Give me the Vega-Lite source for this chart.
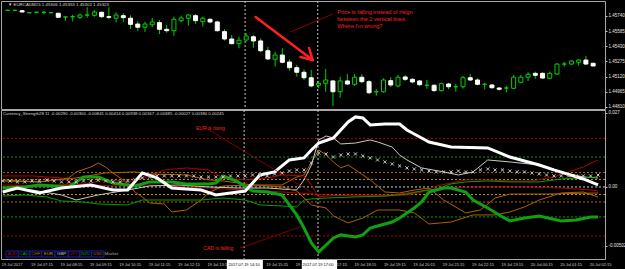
{
"$schema": "https://vega.github.io/schema/vega-lite/v6.json",
"background": "black",
"padding": {"left": 0, "top": 0, "right": 0, "bottom": 0},
"spacing": 1,
"bounds": "flush",
"config": {"view": {"stroke": "#a8a8a8", "strokeWidth": 1}},
"datasets": {
"candles": [
{"i":0,"o":1.45798,"h":1.45804,"l":1.45791,"c":1.45798},
{"i":1,"o":1.45798,"h":1.45804,"l":1.45791,"c":1.45798},
{"i":2,"o":1.45794,"h":1.45798,"l":1.45778,"c":1.45781},
{"i":3,"o":1.45774,"h":1.45778,"l":1.45768,"c":1.45774},
{"i":4,"o":1.45778,"h":1.45784,"l":1.45771,"c":1.45778},
{"i":5,"o":1.45778,"h":1.45791,"l":1.45757,"c":1.45778},
{"i":6,"o":1.45774,"h":1.45778,"l":1.45768,"c":1.45774},
{"i":7,"o":1.45768,"h":1.45771,"l":1.45723,"c":1.45727},
{"i":8,"o":1.4573,"h":1.45733,"l":1.45692,"c":1.4573},
{"i":9,"o":1.45733,"h":1.45753,"l":1.45686,"c":1.45733},
{"i":10,"o":1.45727,"h":1.45764,"l":1.45709,"c":1.4575},
{"i":11,"o":1.4575,"h":1.45829,"l":1.45723,"c":1.4575},
{"i":12,"o":1.45747,"h":1.45801,"l":1.45733,"c":1.45781},
{"i":13,"o":1.45778,"h":1.45786,"l":1.4572,"c":1.45733},
{"i":14,"o":1.45733,"h":1.45829,"l":1.45706,"c":1.45727},
{"i":15,"o":1.45717,"h":1.45778,"l":1.45676,"c":1.4575},
{"i":16,"o":1.45743,"h":1.45768,"l":1.45676,"c":1.45723},
{"i":17,"o":1.45717,"h":1.45747,"l":1.45607,"c":1.45655},
{"i":18,"o":1.45658,"h":1.45686,"l":1.45587,"c":1.45625},
{"i":19,"o":1.45625,"h":1.45682,"l":1.45577,"c":1.45658},
{"i":20,"o":1.45651,"h":1.4572,"l":1.45625,"c":1.45679},
{"i":21,"o":1.45672,"h":1.45699,"l":1.45556,"c":1.45604},
{"i":22,"o":1.45604,"h":1.45648,"l":1.45569,"c":1.4559},
{"i":23,"o":1.4559,"h":1.45733,"l":1.45539,"c":1.45706},
{"i":24,"o":1.45692,"h":1.45743,"l":1.45676,"c":1.4572},
{"i":25,"o":1.45717,"h":1.4576,"l":1.45641,"c":1.4575},
{"i":26,"o":1.45743,"h":1.4576,"l":1.45658,"c":1.45692},
{"i":27,"o":1.45682,"h":1.45733,"l":1.45631,"c":1.45717},
{"i":28,"o":1.45706,"h":1.45717,"l":1.45665,"c":1.45679},
{"i":29,"o":1.45679,"h":1.45692,"l":1.4558,"c":1.4559},
{"i":30,"o":1.4558,"h":1.45604,"l":1.45488,"c":1.45505},
{"i":31,"o":1.45505,"h":1.45546,"l":1.45451,"c":1.45457},
{"i":32,"o":1.45457,"h":1.45528,"l":1.4541,"c":1.45492},
{"i":33,"o":1.45495,"h":1.45563,"l":1.45477,"c":1.45536},
{"i":34,"o":1.45528,"h":1.45546,"l":1.45416,"c":1.45485},
{"i":35,"o":1.45485,"h":1.45512,"l":1.45369,"c":1.45385},
{"i":36,"o":1.45385,"h":1.45426,"l":1.4529,"c":1.45301},
{"i":37,"o":1.45298,"h":1.45375,"l":1.45222,"c":1.45341},
{"i":38,"o":1.45341,"h":1.4541,"l":1.45257,"c":1.45267},
{"i":39,"o":1.4527,"h":1.45298,"l":1.45181,"c":1.45212},
{"i":40,"o":1.45212,"h":1.45239,"l":1.4512,"c":1.45165},
{"i":41,"o":1.45165,"h":1.45195,"l":1.45086,"c":1.45109},
{"i":42,"o":1.45109,"h":1.45188,"l":1.45011,"c":1.45025},
{"i":43,"o":1.45032,"h":1.45076,"l":1.45001,"c":1.45052},
{"i":44,"o":1.45052,"h":1.45198,"l":1.44966,"c":1.45086},
{"i":45,"o":1.45076,"h":1.45086,"l":1.4482,"c":1.44966},
{"i":46,"o":1.44966,"h":1.4512,"l":1.44905,"c":1.45076},
{"i":47,"o":1.45076,"h":1.45147,"l":1.45032,"c":1.45045},
{"i":48,"o":1.45042,"h":1.45147,"l":1.45025,"c":1.45114},
{"i":49,"o":1.45114,"h":1.45147,"l":1.45052,"c":1.45069},
{"i":50,"o":1.45069,"h":1.45086,"l":1.44943,"c":1.44956},
{"i":51,"o":1.44966,"h":1.44991,"l":1.44925,"c":1.44966},
{"i":52,"o":1.44966,"h":1.45103,"l":1.44956,"c":1.45086},
{"i":53,"o":1.45079,"h":1.45114,"l":1.45011,"c":1.45035},
{"i":54,"o":1.45025,"h":1.45137,"l":1.45011,"c":1.45114},
{"i":55,"o":1.45117,"h":1.45137,"l":1.45076,"c":1.45093},
{"i":56,"o":1.45093,"h":1.45103,"l":1.45052,"c":1.45066},
{"i":57,"o":1.45076,"h":1.45086,"l":1.45025,"c":1.45038},
{"i":58,"o":1.45032,"h":1.45086,"l":1.44997,"c":1.45032},
{"i":59,"o":1.45032,"h":1.45042,"l":1.44966,"c":1.44977},
{"i":60,"o":1.44977,"h":1.45058,"l":1.44966,"c":1.45048},
{"i":61,"o":1.45045,"h":1.45058,"l":1.44991,"c":1.45017},
{"i":62,"o":1.45017,"h":1.45045,"l":1.44966,"c":1.45017},
{"i":63,"o":1.45017,"h":1.45127,"l":1.44997,"c":1.45109},
{"i":64,"o":1.45109,"h":1.45147,"l":1.45076,"c":1.45086},
{"i":65,"o":1.45086,"h":1.45103,"l":1.45032,"c":1.45042},
{"i":66,"o":1.45042,"h":1.45058,"l":1.44991,"c":1.45042},
{"i":67,"o":1.45035,"h":1.45045,"l":1.44997,"c":1.45007},
{"i":68,"o":1.45004,"h":1.45011,"l":1.44977,"c":1.44991},
{"i":69,"o":1.45004,"h":1.45025,"l":1.4496,"c":1.45004},
{"i":70,"o":1.45001,"h":1.45137,"l":1.44991,"c":1.45114},
{"i":71,"o":1.45062,"h":1.45137,"l":1.45052,"c":1.45114},
{"i":72,"o":1.45114,"h":1.45165,"l":1.45076,"c":1.45144},
{"i":73,"o":1.45154,"h":1.45171,"l":1.45099,"c":1.45134},
{"i":74,"o":1.45154,"h":1.45165,"l":1.45099,"c":1.45106},
{"i":75,"o":1.45103,"h":1.45171,"l":1.45093,"c":1.45154},
{"i":76,"o":1.45147,"h":1.45257,"l":1.45137,"c":1.45249},
{"i":77,"o":1.45249,"h":1.4527,"l":1.45222,"c":1.45249},
{"i":78,"o":1.45249,"h":1.45287,"l":1.45239,"c":1.4528},
{"i":79,"o":1.45267,"h":1.45298,"l":1.45232,"c":1.4529},
{"i":80,"o":1.4529,"h":1.45331,"l":1.45239,"c":1.45249},
{"i":81,"o":1.45257,"h":1.4526,"l":1.45226,"c":1.45229}
],
"vlines": [{"t":32.85},{"t":42.9}],
"arrow": [
{"s":"a","i":34.3,"p":1.4573},{"s":"a","i":42.2,"p":1.4529},
{"s":"b","i":40.5,"p":1.45321},{"s":"b","i":42.2,"p":1.4529},
{"s":"c","i":41.7,"p":1.45413},{"s":"c","i":42.2,"p":1.4529}
],
"pointerTop": [{"i":45.0,"p":1.4576},{"i":39.1,"p":1.45577}],
"notesTop": [
{"i":45.6,"p":1.45784,"txt":"Price is falling instead of risign"},
{"i":45.6,"p":1.45709,"txt":"between the 2 vertical lines."},
{"i":45.6,"p":1.45635,"txt":"Where I'm wrong?"}
],
"headTop": [{"i":0.04,"p":1.45852,"txt":"\u25bc EURCADM15  1.45306 1.45353 1.45302 1.45323"}],
"levels": [
{"k":"r","v":0.00413},{"k":"g","v":0.00255},{"k":"o","v":0.00123},{"k":"y","v":0.00064},{"k":"z","v":0},
{"k":"y","v":-0.00064},{"k":"o","v":-0.00128},{"k":"g","v":-0.00255},{"k":"r","v":-0.00417}
],
"strength": [
{"c":"AUD","i":0,"v":0.00017},{"c":"AUD","i":5,"v":0.00009},{"c":"AUD","i":10,"v":0.00026},{"c":"AUD","i":15,"v":0.00009},{"c":"AUD","i":20,"v":0.00017},{"c":"AUD","i":25,"v":0},{"c":"AUD","i":28,"v":-0.00009},{"c":"AUD","i":30,"v":-0.00017},{"c":"AUD","i":33,"v":-0.00026},{"c":"AUD","i":36,"v":-0.00034},{"c":"AUD","i":40,"v":-0.00051},{"c":"AUD","i":44,"v":-0.00068},{"c":"AUD","i":48,"v":-0.00077},{"c":"AUD","i":52,"v":-0.00077},{"c":"AUD","i":55,"v":-0.00068},{"c":"AUD","i":57,"v":-0.00043},{"c":"AUD","i":59,"v":0.00009},{"c":"AUD","i":61,"v":0.00034},{"c":"AUD","i":63,"v":0.0006},{"c":"AUD","i":66,"v":0.0006},{"c":"AUD","i":69,"v":0.00051},{"c":"AUD","i":72,"v":0.00051},{"c":"AUD","i":75,"v":0.00085},{"c":"AUD","i":77,"v":0.00128},{"c":"AUD","i":79,"v":0.0017},{"c":"AUD","i":81,"v":0.0023},
{"c":"CHF","i":0,"v":0.0006},{"c":"CHF","i":5,"v":0.00043},{"c":"CHF","i":9,"v":0.00077},{"c":"CHF","i":10,"v":0.00128},{"c":"CHF","i":12,"v":0.0017},{"c":"CHF","i":13,"v":0.00204},{"c":"CHF","i":14,"v":0.0017},{"c":"CHF","i":15,"v":0.00119},{"c":"CHF","i":17,"v":0.00034},{"c":"CHF","i":18,"v":-0.00043},{"c":"CHF","i":19,"v":-0.00085},{"c":"CHF","i":20,"v":-0.00136},{"c":"CHF","i":22,"v":-0.00145},{"c":"CHF","i":23,"v":-0.00213},{"c":"CHF","i":25,"v":-0.00196},{"c":"CHF","i":27,"v":-0.00111},{"c":"CHF","i":28,"v":-0.00051},{"c":"CHF","i":30,"v":0.00009},{"c":"CHF","i":34,"v":0.00017},{"c":"CHF","i":38,"v":0.00017},{"c":"CHF","i":40,"v":0.00085},{"c":"CHF","i":41,"v":0.00102},{"c":"CHF","i":43,"v":0.00315},{"c":"CHF","i":44,"v":0.00272},{"c":"CHF","i":45,"v":0.00213},{"c":"CHF","i":46,"v":0.00162},{"c":"CHF","i":47,"v":0.00187},{"c":"CHF","i":48,"v":0.00145},{"c":"CHF","i":50,"v":0.0006},{"c":"CHF","i":52,"v":-0.00043},{"c":"CHF","i":54,"v":-0.00051},{"c":"CHF","i":56,"v":-0.00026},{"c":"CHF","i":58,"v":-0.00009},{"c":"CHF","i":60,"v":-0.00111},{"c":"CHF","i":63,"v":-0.00221},{"c":"CHF","i":65,"v":-0.00196},{"c":"CHF","i":67,"v":-0.00094},{"c":"CHF","i":69,"v":-0.0006},{"c":"CHF","i":74,"v":-0.0006},{"c":"CHF","i":81,"v":-0.00051},
{"c":"GBP","i":0,"v":-0.00009},{"c":"GBP","i":4,"v":-0.00026},{"c":"GBP","i":8,"v":-0.00068},{"c":"GBP","i":10,"v":-0.00111},{"c":"GBP","i":13,"v":-0.00068},{"c":"GBP","i":17,"v":-0.00026},{"c":"GBP","i":20,"v":0.00009},{"c":"GBP","i":24,"v":0.00017},{"c":"GBP","i":28,"v":0},{"c":"GBP","i":32,"v":-0.00009},{"c":"GBP","i":36,"v":-0.00009},{"c":"GBP","i":40,"v":-0.00026},{"c":"GBP","i":41,"v":0.0006},{"c":"GBP","i":42,"v":0.00187},{"c":"GBP","i":43,"v":0.004},{"c":"GBP","i":44,"v":0.00434},{"c":"GBP","i":45,"v":0.00417},{"c":"GBP","i":46,"v":0.00366},{"c":"GBP","i":48,"v":0.00374},{"c":"GBP","i":50,"v":0.004},{"c":"GBP","i":51,"v":0.00383},{"c":"GBP","i":53,"v":0.0034},{"c":"GBP","i":54,"v":0.00272},{"c":"GBP","i":55,"v":0.0023},{"c":"GBP","i":57,"v":0.00162},{"c":"GBP","i":60,"v":0.00128},{"c":"GBP","i":62,"v":0.00102},{"c":"GBP","i":64,"v":0.00128},{"c":"GBP","i":66,"v":0.0023},{"c":"GBP","i":69,"v":0.00213},{"c":"GBP","i":73,"v":0.00187},{"c":"GBP","i":76,"v":0.00128},{"c":"GBP","i":79,"v":0.00085},{"c":"GBP","i":81,"v":0.00077},
{"c":"JPY","i":0,"v":0.00094},{"c":"JPY","i":4,"v":0.00094},{"c":"JPY","i":8,"v":0.00077},{"c":"JPY","i":10,"v":0.00017},{"c":"JPY","i":12,"v":0.00034},{"c":"JPY","i":14,"v":0.0006},{"c":"JPY","i":17,"v":0.00043},{"c":"JPY","i":20,"v":0.00094},{"c":"JPY","i":22,"v":0.00145},{"c":"JPY","i":25,"v":0.00162},{"c":"JPY","i":28,"v":0.00145},{"c":"JPY","i":30,"v":0.00077},{"c":"JPY","i":33,"v":0.0006},{"c":"JPY","i":36,"v":0.00077},{"c":"JPY","i":38,"v":0.00102},{"c":"JPY","i":41,"v":0.00094},{"c":"JPY","i":42,"v":0.00017},{"c":"JPY","i":43,"v":-0.00085},{"c":"JPY","i":44,"v":-0.00077},{"c":"JPY","i":47,"v":-0.00068},{"c":"JPY","i":50,"v":-0.00068},{"c":"JPY","i":53,"v":-0.00068},{"c":"JPY","i":56,"v":-0.00043},{"c":"JPY","i":60,"v":-0.00009},{"c":"JPY","i":64,"v":0},{"c":"JPY","i":68,"v":0},{"c":"JPY","i":72,"v":0},{"c":"JPY","i":76,"v":-0.00009},{"c":"JPY","i":80,"v":-0.00026},{"c":"JPY","i":81,"v":-0.00034},
{"c":"NZD","i":0,"v":-0.00077},{"c":"NZD","i":3,"v":-0.00068},{"c":"NZD","i":6,"v":-0.00085},{"c":"NZD","i":8,"v":-0.00119},{"c":"NZD","i":11,"v":-0.00128},{"c":"NZD","i":13,"v":-0.00145},{"c":"NZD","i":17,"v":-0.00153},{"c":"NZD","i":19,"v":-0.00111},{"c":"NZD","i":23,"v":-0.00111},{"c":"NZD","i":27,"v":-0.00111},{"c":"NZD","i":30,"v":-0.00094},{"c":"NZD","i":33,"v":-0.00111},{"c":"NZD","i":35,"v":-0.00153},{"c":"NZD","i":38,"v":-0.00162},{"c":"NZD","i":40,"v":-0.0017},{"c":"NZD","i":41,"v":-0.00111},{"c":"NZD","i":42,"v":-0.00102},{"c":"NZD","i":44,"v":-0.00094},{"c":"NZD","i":48,"v":-0.00085},{"c":"NZD","i":52,"v":-0.00077},{"c":"NZD","i":55,"v":-0.0006},{"c":"NZD","i":57,"v":-0.00034},{"c":"NZD","i":59,"v":-0.00017},{"c":"NZD","i":61,"v":0.00026},{"c":"NZD","i":63,"v":0.00043},{"c":"NZD","i":66,"v":0.00051},{"c":"NZD","i":69,"v":0.00043},{"c":"NZD","i":73,"v":0.00043},{"c":"NZD","i":76,"v":0.00068},{"c":"NZD","i":79,"v":0.00077},{"c":"NZD","i":81,"v":0.00085},
{"c":"USD","i":0,"v":0.00051},{"c":"USD","i":5,"v":0.00043},{"c":"USD","i":10,"v":0.00077},{"c":"USD","i":14,"v":0.00119},{"c":"USD","i":18,"v":0.00128},{"c":"USD","i":20,"v":0.00111},{"c":"USD","i":25,"v":0.00102},{"c":"USD","i":28,"v":0.0006},{"c":"USD","i":30,"v":0.00051},{"c":"USD","i":34,"v":0.00017},{"c":"USD","i":38,"v":0},{"c":"USD","i":40,"v":-0.00034},{"c":"USD","i":42,"v":-0.00153},{"c":"USD","i":44,"v":-0.00179},{"c":"USD","i":45,"v":-0.00247},{"c":"USD","i":47,"v":-0.00306},{"c":"USD","i":49,"v":-0.00264},{"c":"USD","i":51,"v":-0.00196},{"c":"USD","i":54,"v":-0.00196},{"c":"USD","i":56,"v":-0.00221},{"c":"USD","i":58,"v":-0.00315},{"c":"USD","i":61,"v":-0.00298},{"c":"USD","i":64,"v":-0.00238},{"c":"USD","i":67,"v":-0.00238},{"c":"USD","i":69,"v":-0.00213},{"c":"USD","i":71,"v":-0.0017},{"c":"USD","i":73,"v":-0.00111},{"c":"USD","i":76,"v":-0.00051},{"c":"USD","i":79,"v":-0.00043},{"c":"USD","i":81,"v":-0.00085},
{"c":"CAD","i":0,"v":-0.00009},{"c":"CAD","i":3,"v":0},{"c":"CAD","i":5,"v":0.00017},{"c":"CAD","i":9,"v":0},{"c":"CAD","i":11,"v":0.00085},{"c":"CAD","i":13,"v":0.00085},{"c":"CAD","i":15,"v":0.00034},{"c":"CAD","i":18,"v":0.00009},{"c":"CAD","i":20,"v":0.00043},{"c":"CAD","i":23,"v":0.00043},{"c":"CAD","i":25,"v":0.00026},{"c":"CAD","i":28,"v":0.00026},{"c":"CAD","i":29,"v":0.00034},{"c":"CAD","i":30,"v":0.00094},{"c":"CAD","i":32,"v":0.00043},{"c":"CAD","i":34,"v":-0.00034},{"c":"CAD","i":36,"v":-0.00043},{"c":"CAD","i":38,"v":-0.00068},{"c":"CAD","i":40,"v":-0.00238},{"c":"CAD","i":41,"v":-0.00349},{"c":"CAD","i":42,"v":-0.00477},{"c":"CAD","i":43,"v":-0.00553},{"c":"CAD","i":44,"v":-0.00494},{"c":"CAD","i":45,"v":-0.00434},{"c":"CAD","i":46,"v":-0.00408},{"c":"CAD","i":48,"v":-0.00426},{"c":"CAD","i":49,"v":-0.00408},{"c":"CAD","i":50,"v":-0.00349},{"c":"CAD","i":51,"v":-0.00332},{"c":"CAD","i":53,"v":-0.00298},{"c":"CAD","i":54,"v":-0.00264},{"c":"CAD","i":56,"v":-0.00179},{"c":"CAD","i":57,"v":-0.00128},{"c":"CAD","i":58,"v":-0.00043},{"c":"CAD","i":60,"v":-0.00009},{"c":"CAD","i":61,"v":-0.00009},{"c":"CAD","i":63,"v":-0.00043},{"c":"CAD","i":64,"v":-0.00111},{"c":"CAD","i":66,"v":-0.00179},{"c":"CAD","i":68,"v":-0.00255},{"c":"CAD","i":69,"v":-0.00289},{"c":"CAD","i":71,"v":-0.00264},{"c":"CAD","i":73,"v":-0.00247},{"c":"CAD","i":76,"v":-0.00289},{"c":"CAD","i":78,"v":-0.00281},{"c":"CAD","i":80,"v":-0.00255},{"c":"CAD","i":81,"v":-0.00255},
{"c":"EUR","i":0,"v":-0.00043},{"c":"EUR","i":2,"v":-0.00009},{"c":"EUR","i":5,"v":-0.00051},{"c":"EUR","i":8,"v":-0.00009},{"c":"EUR","i":12,"v":0.00017},{"c":"EUR","i":15,"v":-0.00026},{"c":"EUR","i":17,"v":-0.00026},{"c":"EUR","i":19,"v":0.00119},{"c":"EUR","i":21,"v":0.00077},{"c":"EUR","i":23,"v":-0.00009},{"c":"EUR","i":27,"v":-0.00026},{"c":"EUR","i":29,"v":-0.00068},{"c":"EUR","i":33,"v":-0.00034},{"c":"EUR","i":35,"v":0.00102},{"c":"EUR","i":37,"v":0.00128},{"c":"EUR","i":39,"v":0.0023},{"c":"EUR","i":41,"v":0.00247},{"c":"EUR","i":42,"v":0.00315},{"c":"EUR","i":43,"v":0.00374},{"c":"EUR","i":45,"v":0.00417},{"c":"EUR","i":47,"v":0.00553},{"c":"EUR","i":48,"v":0.00596},{"c":"EUR","i":49,"v":0.00587},{"c":"EUR","i":50,"v":0.00528},{"c":"EUR","i":52,"v":0.00536},{"c":"EUR","i":54,"v":0.00536},{"c":"EUR","i":55,"v":0.00485},{"c":"EUR","i":57,"v":0.00417},{"c":"EUR","i":58,"v":0.00383},{"c":"EUR","i":61,"v":0.0034},{"c":"EUR","i":66,"v":0.00332},{"c":"EUR","i":69,"v":0.00255},{"c":"EUR","i":73,"v":0.00187},{"c":"EUR","i":75,"v":0.00145},{"c":"EUR","i":79,"v":0.00068},{"c":"EUR","i":81,"v":0.00017}
],
"market": [
{"i":0,"v":0.00051},{"i":1,"v":0.00051},{"i":2,"v":0.00043},{"i":3,"v":0.00043},{"i":4,"v":0.00051},{"i":5,"v":0.00051},{"i":6,"v":0.0006},{"i":7,"v":0.00051},{"i":8,"v":0.00043},{"i":9,"v":0.00043},{"i":10,"v":0.00043},{"i":11,"v":0.00051},{"i":12,"v":0.00051},{"i":13,"v":0.0006},{"i":14,"v":0.00051},{"i":15,"v":0.00043},{"i":16,"v":0.00043},{"i":17,"v":0.00051},{"i":18,"v":0.0006},{"i":19,"v":0.00077},{"i":20,"v":0.00085},{"i":21,"v":0.00094},{"i":22,"v":0.00094},{"i":23,"v":0.00094},{"i":24,"v":0.00094},{"i":25,"v":0.00094},{"i":26,"v":0.00094},{"i":27,"v":0.00085},{"i":28,"v":0.00085},{"i":29,"v":0.00085},{"i":30,"v":0.00085},{"i":31,"v":0.00094},{"i":32,"v":0.00094},{"i":33,"v":0.00094},{"i":34,"v":0.00102},{"i":35,"v":0.00102},{"i":36,"v":0.00094},{"i":37,"v":0.00111},{"i":38,"v":0.00119},{"i":39,"v":0.00136},{"i":40,"v":0.00145},{"i":41,"v":0.00145},{"i":42,"v":0.00204},{"i":43,"v":0.00289},{"i":44,"v":0.00281},{"i":45,"v":0.00255},{"i":46,"v":0.00272},{"i":47,"v":0.00281},{"i":48,"v":0.00281},{"i":49,"v":0.00264},{"i":50,"v":0.00247},{"i":51,"v":0.0023},{"i":52,"v":0.00213},{"i":53,"v":0.00196},{"i":54,"v":0.00179},{"i":55,"v":0.00162},{"i":56,"v":0.00153},{"i":57,"v":0.00145},{"i":58,"v":0.00136},{"i":59,"v":0.00128},{"i":60,"v":0.00128},{"i":61,"v":0.00128},{"i":62,"v":0.00136},{"i":63,"v":0.00128},{"i":64,"v":0.00128},{"i":65,"v":0.00145},{"i":66,"v":0.00153},{"i":67,"v":0.00145},{"i":68,"v":0.00145},{"i":69,"v":0.00136},{"i":70,"v":0.00128},{"i":71,"v":0.00128},{"i":72,"v":0.00119},{"i":73,"v":0.00111},{"i":74,"v":0.00102},{"i":75,"v":0.00094},{"i":76,"v":0.00094},{"i":77,"v":0.00094},{"i":78,"v":0.00094},{"i":79,"v":0.00094},{"i":80,"v":0.00094},{"i":81,"v":0.00102}
],
"pointersBottom": [
{"s":"eur","i":27.65,"v":0.00502},{"s":"eur","i":42.2,"v":-0.00051},
{"s":"cad","i":32.3,"v":-0.00519},{"s":"cad","i":40.5,"v":-0.0034}
],
"notesBottom": [
{"i":26.3,"v":0.00502,"txt":"EUR is rising"},
{"i":27.3,"v":-0.00519,"txt":"CAD is falling"}
],
"headBottom": [{"i":0.04,"v":0.00621,"txt":"Currency_Strength28 11 -0.00290 -0.00300 -0.00841 0.00414 0.00938 0.00167 -0.00385 -0.00027 0.00380 0.00245"}],
"legend": [
{"c":"AUD","s":0.45,"e":2.12,"m":1.28},
{"c":"CAD","s":2.12,"e":3.71,"m":2.92},
{"c":"CHF","s":3.71,"e":5.31,"m":4.51},
{"c":"EUR","s":5.31,"e":7.12,"m":6.22},
{"c":"GBP","s":7.12,"e":8.93,"m":8.02},
{"c":"JPY","s":8.93,"e":10.52,"m":9.72},
{"c":"NZD","s":10.52,"e":12.11,"m":11.32},
{"c":"USD","s":12.11,"e":13.78,"m":12.95}
],
"market_label": [{"i":13.9,"txt":"Market"}],
"timeLabels": [
{"i":0,"txt":"19 Jul 2017"},{"i":4,"txt":"19 Jul 07:15"},{"i":8,"txt":"19 Jul 08:15"},{"i":12,"txt":"19 Jul 09:15"},{"i":16,"txt":"19 Jul 10:15"},{"i":20,"txt":"19 Jul 11:15"},{"i":24,"txt":"19 Jul 12:15"},{"i":28,"txt":"19 Jul 13:15"},{"i":32,"txt":"19 Jul 14:15"},{"i":36,"txt":"19 Jul 15:15"},{"i":40,"txt":"19 Jul 16:15"},{"i":44,"txt":"19 Jul 17:15"},{"i":48,"txt":"19 Jul 18:15"},{"i":52,"txt":"19 Jul 19:15"},{"i":56,"txt":"19 Jul 20:15"},{"i":60,"txt":"19 Jul 21:15"},{"i":64,"txt":"19 Jul 22:15"},{"i":68,"txt":"19 Jul 23:15"},{"i":72,"txt":"20 Jul 00:15"},{"i":76,"txt":"20 Jul 01:15"},{"i":80,"txt":"20 Jul 02:15"}
],
"timeMarks": [
{"t":32.85,"s":30.5,"e":35.4,"txt":"2017.07.19 14:10"},
{"t":42.9,"s":40.7,"e":45.5,"txt":"2017.07.19 17:00"}
]
},
"vconcat": [
{
"width": 604, "height": 108,
"encoding": {
  "y": {"type": "quantitative", "scale": {"domain": [1.447895, 1.458933], "nice": false, "zero": false},
        "axis": {"orient": "right", "values": [1.4574, 1.45585, 1.4543, 1.45275, 1.4512, 1.44965, 1.4481], "format": ".5f", "title": null, "grid": false, "domain": false, "ticks": true, "tickSize": 2, "tickColor": "#c0c0c0", "labelColor": "#e0e0e0", "labelFont": "Liberation Sans", "labelFontSize": 4.5, "labelPadding": 1, "labelOverlap": false, "labelBound": false}}
},
"layer": [
{"data": {"name": "vlines"}, "mark": {"type": "rule", "color": "#c8c8c8", "strokeDash": [2, 2], "strokeWidth": 1, "clip": true},
 "encoding": {"x": {"field": "t", "type": "quantitative", "scale": {"domain": [-0.23, 81.95], "nice": false, "zero": false}, "axis": null}, "y": null}},
{"data": {"name": "candles"}, "mark": {"type": "rule", "color": "#00d000", "strokeWidth": 1, "clip": true},
 "encoding": {
  "x": {"field": "i", "type": "quantitative", "scale": {"domain": [-0.23, 81.95], "nice": false, "zero": false}, "axis": null},
  "y": {"field": "l"},
  "y2": {"field": "h"}}},
{"data": {"name": "candles"}, "mark": {"type": "bar", "width": 4, "strokeWidth": 1, "clip": true},
 "encoding": {
  "x": {"field": "i", "type": "quantitative", "scale": {"domain": [-0.23, 81.95], "nice": false, "zero": false}, "axis": null},
  "y": {"field": "o"},
  "y2": {"field": "c"},
  "fill": {"condition": {"test": "datum.c < datum.o", "value": "#ffffff"}, "value": "#000000"},
  "stroke": {"condition": {"test": "datum.c < datum.o", "value": "#ffffff"}, "value": "#00d000"}}},
{"data": {"name": "pointerTop"}, "mark": {"type": "line", "color": "#b00000", "strokeWidth": 0.8, "clip": true},
 "encoding": {
  "x": {"field": "i", "type": "quantitative", "scale": {"domain": [-0.23, 81.95], "nice": false, "zero": false}, "axis": null},
  "y": {"field": "p"}}},
{"data": {"name": "arrow"}, "mark": {"type": "line", "color": "#ff2020", "strokeWidth": 2.5, "strokeCap": "round", "clip": true},
 "encoding": {
  "x": {"field": "i", "type": "quantitative", "scale": {"domain": [-0.23, 81.95], "nice": false, "zero": false}, "axis": null},
  "y": {"field": "p"},
  "detail": {"field": "s"}}},
{"data": {"name": "notesTop"}, "mark": {"type": "text", "align": "left", "baseline": "middle", "color": "#ff2020", "font": "Liberation Sans", "fontSize": 5.6, "clip": true},
 "encoding": {
  "x": {"field": "i", "type": "quantitative", "scale": {"domain": [-0.23, 81.95], "nice": false, "zero": false}, "axis": null},
  "y": {"field": "p"},
  "text": {"field": "txt"}}},
{"data": {"name": "headTop"}, "mark": {"type": "text", "align": "left", "baseline": "middle", "color": "#d8d8d8", "font": "Liberation Sans", "fontSize": 4.4, "clip": true},
 "encoding": {
  "x": {"field": "i", "type": "quantitative", "scale": {"domain": [-0.23, 81.95], "nice": false, "zero": false}, "axis": null},
  "y": {"field": "p"},
  "text": {"field": "txt"}}}
]
},
{
"width": 604, "height": 149,
"encoding": {
  "y": {"type": "quantitative", "scale": {"domain": [-0.00613, 0.00655], "nice": false, "zero": false},
        "axis": {"orient": "right", "values": [0.0063, 0, -0.00502], "labelExpr": "datum.value > 0.001 ? '0.027' : (datum.value == 0 ? '0.00' : '-0.00502')", "title": null, "grid": false, "domain": false, "ticks": true, "tickSize": 2, "tickColor": "#c0c0c0", "labelColor": "#e0e0e0", "labelFont": "Liberation Sans", "labelFontSize": 4.5, "labelPadding": 1, "labelOverlap": false, "labelBound": false}}
},
"layer": [
{"data": {"name": "levels"}, "mark": {"type": "rule", "strokeDash": [2, 2], "strokeWidth": 1, "clip": true},
 "encoding": {
  "y": {"field": "v"},
  "color": {"field": "k", "type": "nominal", "scale": {"domain": ["r", "g", "o", "y", "z"], "range": ["#b00000", "#00a000", "#b06000", "#c89000", "#c8c8c8"]}, "legend": null}}},
{"data": {"name": "vlines"}, "mark": {"type": "rule", "color": "#c8c8c8", "strokeDash": [2, 2], "strokeWidth": 1, "clip": true},
 "encoding": {"x": {"field": "t", "type": "quantitative", "scale": {"domain": [-0.23, 81.95], "nice": false, "zero": false}, "axis": null}, "y": null}},
{"data": {"name": "strength"}, "transform": [{"filter": "datum.c != 'EUR' && datum.c != 'CAD'"}], "mark": {"type": "line", "strokeWidth": 1, "clip": true},
 "encoding": {
  "x": {"field": "i", "type": "quantitative", "scale": {"domain": [-0.23, 81.95], "nice": false, "zero": false}, "axis": null},
  "y": {"field": "v"},
  "color": {"field": "c", "type": "nominal", "scale": {"domain": ["AUD", "CAD", "CHF", "EUR", "GBP", "JPY", "NZD", "USD"], "range": ["#1890c0", "#10a010", "#d07800", "#ffffff", "#1818e0", "#d8d800", "#d000d0", "#d00000"]}, "legend": null}}},
{"data": {"name": "strength"}, "transform": [{"filter": "datum.c == 'CAD'"}], "mark": {"type": "line", "strokeWidth": 3, "color": "#10a010", "clip": true},
 "encoding": {
  "x": {"field": "i", "type": "quantitative", "scale": {"domain": [-0.23, 81.95], "nice": false, "zero": false}, "axis": null},
  "y": {"field": "v"}}},
{"data": {"name": "strength"}, "transform": [{"filter": "datum.c == 'EUR'"}], "mark": {"type": "line", "strokeWidth": 3, "color": "#ffffff", "clip": true},
 "encoding": {
  "x": {"field": "i", "type": "quantitative", "scale": {"domain": [-0.23, 81.95], "nice": false, "zero": false}, "axis": null},
  "y": {"field": "v"}}},
{"data": {"name": "market"}, "mark": {"type": "point", "shape": "M-1,-1L1,1M1,-1L-1,1", "filled": false, "size": 10, "strokeWidth": 1, "color": "#c8c8c8", "opacity": 1, "clip": true},
 "encoding": {
  "x": {"field": "i", "type": "quantitative", "scale": {"domain": [-0.23, 81.95], "nice": false, "zero": false}, "axis": null},
  "y": {"field": "v"}}},
{"data": {"name": "pointersBottom"}, "mark": {"type": "line", "color": "#a00000", "strokeWidth": 0.8, "clip": true},
 "encoding": {
  "x": {"field": "i", "type": "quantitative", "scale": {"domain": [-0.23, 81.95], "nice": false, "zero": false}, "axis": null},
  "y": {"field": "v"},
  "detail": {"field": "s"}}},
{"data": {"name": "notesBottom"}, "mark": {"type": "text", "align": "left", "baseline": "middle", "color": "#ff2020", "font": "Liberation Sans", "fontSize": 5, "clip": true},
 "encoding": {
  "x": {"field": "i", "type": "quantitative", "scale": {"domain": [-0.23, 81.95], "nice": false, "zero": false}, "axis": null},
  "y": {"field": "v"},
  "text": {"field": "txt"}}},
{"data": {"name": "headBottom"}, "mark": {"type": "text", "align": "left", "baseline": "middle", "color": "#d8d8d8", "font": "Liberation Sans", "fontSize": 4.3, "clip": true},
 "encoding": {
  "x": {"field": "i", "type": "quantitative", "scale": {"domain": [-0.23, 81.95], "nice": false, "zero": false}, "axis": null},
  "y": {"field": "v"},
  "text": {"field": "txt"}}},
{"data": {"name": "legend"}, "mark": {"type": "rect", "fill": "#000010", "stroke": "#202090", "strokeWidth": 1, "clip": true},
 "encoding": {
  "x": {"field": "s", "type": "quantitative", "scale": {"domain": [-0.23, 81.95], "nice": false, "zero": false}, "axis": null},
  "x2": {"field": "e"},
  "y": {"datum": -0.00545},
  "y2": {"datum": -0.00596}}},
{"data": {"name": "legend"}, "mark": {"type": "text", "align": "center", "baseline": "middle", "font": "Liberation Sans", "fontSize": 4.4, "clip": true},
 "encoding": {
  "x": {"field": "m", "type": "quantitative", "scale": {"domain": [-0.23, 81.95], "nice": false, "zero": false}, "axis": null},
  "y": {"datum": -0.0057},
  "text": {"field": "c"},
  "color": {"field": "c", "type": "nominal", "scale": {"domain": ["AUD", "CAD", "CHF", "EUR", "GBP", "JPY", "NZD", "USD"], "range": ["#1890c0", "#10a010", "#d07800", "#ffffff", "#1818e0", "#d8d800", "#d000d0", "#d00000"]}, "legend": null}}},
{"data": {"name": "market_label"}, "mark": {"type": "text", "align": "left", "baseline": "middle", "color": "#a0a0a0", "font": "Liberation Sans", "fontSize": 4.4, "clip": true},
 "encoding": {
  "x": {"field": "i", "type": "quantitative", "scale": {"domain": [-0.23, 81.95], "nice": false, "zero": false}, "axis": null},
  "y": {"datum": -0.0057},
  "text": {"field": "txt"}}}
]
},
{
"width": 604, "height": 9,
"view": {"stroke": null},
"layer": [
{"data": {"name": "timeLabels"}, "mark": {"type": "text", "align": "left", "baseline": "middle", "dx": -1, "color": "#d0d0d0", "font": "Liberation Sans", "fontSize": 4},
 "encoding": {
  "x": {"field": "i", "type": "quantitative", "scale": {"domain": [-0.23, 81.95], "nice": false, "zero": false}, "axis": null},
  "text": {"field": "txt"}}},
{"data": {"name": "timeMarks"}, "mark": {"type": "rect", "fill": "#ffffff"},
 "encoding": {
  "x": {"field": "s", "type": "quantitative", "scale": {"domain": [-0.23, 81.95], "nice": false, "zero": false}, "axis": null},
  "x2": {"field": "e"}}},
{"data": {"name": "timeMarks"}, "mark": {"type": "text", "align": "center", "baseline": "middle", "color": "#000000", "font": "Liberation Sans", "fontSize": 4},
 "encoding": {
  "x": {"field": "t", "type": "quantitative", "scale": {"domain": [-0.23, 81.95], "nice": false, "zero": false}, "axis": null},
  "text": {"field": "txt"}}}
]
}
]
}
